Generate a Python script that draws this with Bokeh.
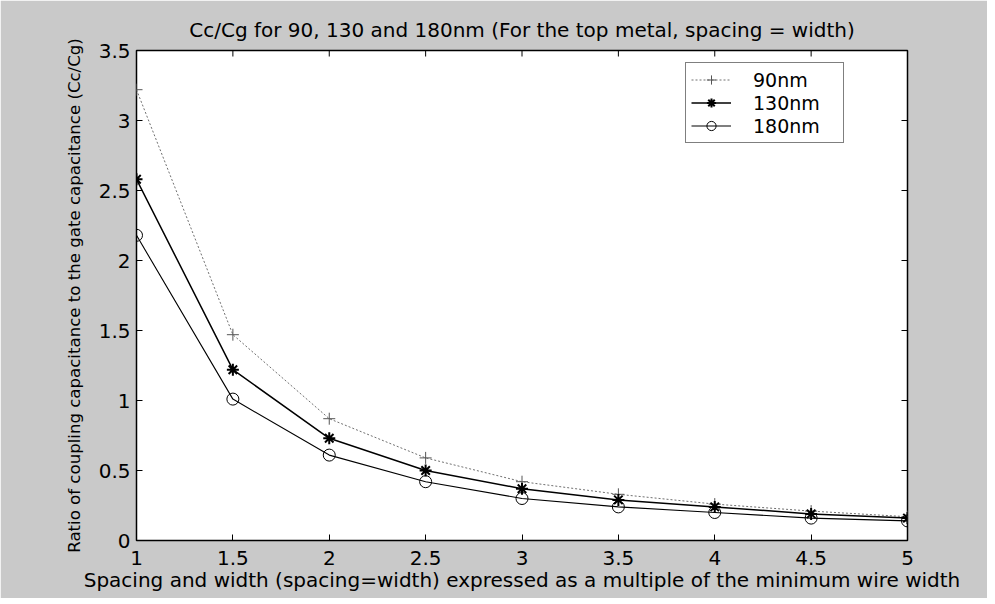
import math
from bokeh.plotting import figure
from bokeh.models import FixedTicker, Range1d, Legend
from bokeh.embed import file_html
from bokeh.resources import INLINE

x_vals = [1, 1.5, 2, 2.5, 3, 3.5, 4, 4.5, 5]
nm90 = [3.22, 1.47, 0.87, 0.59, 0.42, 0.33, 0.26, 0.21, 0.17]
nm130 = [2.58, 1.22, 0.73, 0.50, 0.37, 0.29, 0.24, 0.19, 0.16]
nm180 = [2.18, 1.01, 0.61, 0.42, 0.30, 0.24, 0.20, 0.16, 0.14]
x_ticks = [1, 1.5, 2, 2.5, 3, 3.5, 4, 4.5, 5]
x_tick_labels = ["1", "1.5", "2", "2.5", "3", "3.5", "4", "4.5", "5"]
y_ticks = [0, 0.5, 1, 1.5, 2, 2.5, 3, 3.5]
y_tick_labels = ["0", "0.5", "1", "1.5", "2", "2.5", "3", "3.5"]
title_text = "Cc/Cg for 90, 130 and 180nm (For the top metal, spacing = width)"
x_label = "Spacing and width (spacing=width) expressed as a multiple of the minimum wire width"
y_label = "Ratio of coupling capacitance to the gate capacitance (Cc/Cg)"

FONT = "DejaVu Sans"
BG = "#c9c9c9"
X_MIN, X_MAX = 1, 5
Y_MIN, Y_MAX = 0, 3.5

p = figure(width=987, height=598, output_backend="svg", toolbar_location=None,
           x_range=Range1d(X_MIN, X_MAX), y_range=Range1d(Y_MIN, Y_MAX),
           min_border_left=136, min_border_right=80, min_border_top=50, min_border_bottom=58)
p.border_fill_color = BG
p.background_fill_color = "white"
p.outline_line_color = "black"
p.outline_line_width = 1.5
p.grid.visible = False

p.title.text = title_text
p.title.align = "center"
p.title.text_font = FONT
p.title.text_font_size = "20px"
p.title.text_font_style = "normal"
p.title.text_color = "black"
p.title.standoff = 18

for ax in (p.xaxis[0], p.yaxis[0]):
    ax.major_tick_in = 6
    ax.major_tick_out = 0
    ax.minor_tick_in = 0
    ax.minor_tick_out = 0
    ax.axis_line_color = None
    ax.major_label_text_font = FONT
    ax.major_label_text_font_size = "20px"
    ax.major_label_text_color = "black"
    ax.axis_label_text_font = FONT
    ax.axis_label_text_font_style = "normal"
    ax.axis_label_text_color = "black"

p.xaxis[0].ticker = FixedTicker(ticks=x_ticks)
p.xaxis[0].major_label_overrides = dict(zip(x_ticks, x_tick_labels))
p.xaxis[0].axis_label = x_label
p.xaxis[0].axis_label_text_font_size = "20px"
p.xaxis[0].axis_label_standoff = 0
p.xaxis[0].major_label_standoff = 10

p.yaxis[0].ticker = FixedTicker(ticks=y_ticks)
p.yaxis[0].major_label_overrides = dict(zip(y_ticks, y_tick_labels))
p.yaxis[0].axis_label = y_label
p.yaxis[0].axis_label_text_font_size = "16.6px"
p.yaxis[0].axis_label_standoff = 12
p.yaxis[0].major_label_standoff = 6

# inward ticks on the top and right edges of the box (half of each dash is clipped away)
p.scatter(x_ticks, [Y_MAX] * len(x_ticks), marker="dash", size=12, angle=math.pi / 2,
          line_color="black", line_width=1)
p.scatter([X_MAX] * len(y_ticks), y_ticks, marker="dash", size=12,
          line_color="black", line_width=1)

r1l = p.line(x_vals, nm90, line_color="#707070", line_width=1, line_dash="2 2")
r1m = p.scatter(x_vals, nm90, marker="cross", size=12, line_color="#555555", line_width=1)
r2l = p.line(x_vals, nm130, line_color="black", line_width=1.5)
r2m = p.scatter(x_vals, nm130, marker="asterisk", size=12, line_color="black", line_width=2)
r3l = p.line(x_vals, nm180, line_color="black", line_width=1.1)
r3m = p.scatter(x_vals, nm180, marker="circle", size=12, line_color="black", line_width=1,
                fill_color=None)

legend = Legend(items=[("90nm", [r1l, r1m]), ("130nm", [r2l, r2m]), ("180nm", [r3l, r3m])],
                location=(549, 397))
legend.label_text_font = FONT
legend.label_text_font_size = "19px"
legend.label_text_color = "black"
legend.border_line_color = "black"
legend.border_line_width = 1.5
legend.background_fill_color = "white"
legend.background_fill_alpha = 1
legend.glyph_width = 40
legend.glyph_height = 23
legend.label_height = 23
legend.label_width = 85
legend.spacing = 0
legend.padding = 5
legend.label_standoff = 22
legend.margin = 0
p.add_layout(legend, "center")

open("out.html", "w").write(file_html(p, INLINE))
